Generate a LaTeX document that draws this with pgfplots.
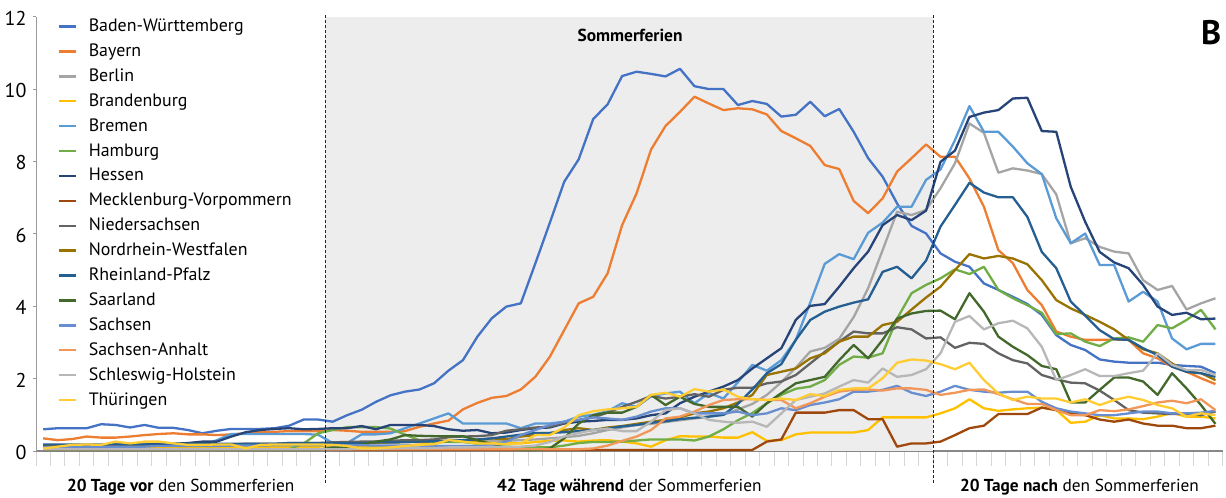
\documentclass[border=0pt]{standalone}
\usepackage{fontspec}
\setmainfont{PT Sans}
\usepackage{pgfplots}
\pgfplotsset{compat=1.18}
\usepackage{pgfplotstable}

\definecolor{cBW}{HTML}{4472C4}
\definecolor{cBY}{HTML}{ED7D31}
\definecolor{cBE}{HTML}{A5A5A5}
\definecolor{cBB}{HTML}{FFC000}
\definecolor{cHB}{HTML}{5B9BD5}
\definecolor{cHH}{HTML}{70AD47}
\definecolor{cHE}{HTML}{264478}
\definecolor{cMV}{HTML}{9E480E}
\definecolor{cNI}{HTML}{636363}
\definecolor{cNW}{HTML}{997300}
\definecolor{cRP}{HTML}{255E91}
\definecolor{cSL}{HTML}{43682B}
\definecolor{cSN}{HTML}{698ED0}
\definecolor{cST}{HTML}{F1975A}
\definecolor{cSH}{HTML}{B7B7B7}
\definecolor{cTH}{HTML}{FFCD33}
\definecolor{shade}{HTML}{EDEDED}

% one value per day (day 0 .. 81), rows separated by \\
\pgfplotstableread[header=false,row sep=\\]{0.60\\0.63\\0.63\\0.63\\0.74\\0.72\\0.65\\0.72\\0.64\\0.64\\0.58\\0.49\\0.56\\0.61\\0.61\\0.61\\0.63\\0.70\\0.87\\0.87\\0.81\\0.99\\1.14\\1.36\\1.54\\1.64\\1.70\\1.87\\2.22\\2.51\\3.16\\3.67\\3.99\\4.08\\5.18\\6.30\\7.44\\8.06\\9.17\\9.58\\10.36\\10.48\\10.42\\10.35\\10.56\\10.08\\10.00\\10.00\\9.56\\9.67\\9.59\\9.24\\9.29\\9.65\\9.25\\9.45\\8.82\\8.09\\7.58\\6.84\\6.22\\6.01\\5.46\\5.23\\5.09\\4.63\\4.45\\4.26\\4.06\\3.76\\3.20\\2.93\\2.79\\2.53\\2.47\\2.44\\2.44\\2.44\\2.38\\2.35\\2.33\\2.15\\}\tBW
\pgfplotstableread[header=false,row sep=\\]{0.35\\0.30\\0.33\\0.40\\0.37\\0.37\\0.40\\0.44\\0.47\\0.49\\0.46\\0.46\\0.44\\0.46\\0.49\\0.52\\0.53\\0.55\\0.55\\0.55\\0.58\\0.56\\0.53\\0.53\\0.53\\0.55\\0.67\\0.76\\0.84\\1.15\\1.33\\1.47\\1.52\\1.70\\2.05\\2.60\\3.34\\4.08\\4.26\\4.91\\6.24\\7.12\\8.33\\8.98\\9.37\\9.79\\9.60\\9.42\\9.47\\9.44\\9.30\\8.84\\8.64\\8.43\\7.90\\7.79\\6.91\\6.57\\6.98\\7.72\\8.09\\8.47\\8.13\\8.13\\7.53\\6.75\\5.55\\5.19\\4.45\\4.03\\3.30\\3.16\\3.07\\3.07\\3.08\\3.07\\2.70\\2.56\\2.33\\2.19\\2.01\\1.85\\}\tBY
\pgfplotstableread[header=false,row sep=\\]{0.10\\0.08\\0.08\\0.10\\0.10\\0.12\\0.12\\0.10\\0.12\\0.12\\0.15\\0.15\\0.12\\0.12\\0.15\\0.15\\0.15\\0.18\\0.18\\0.20\\0.20\\0.18\\0.20\\0.22\\0.22\\0.25\\0.25\\0.28\\0.28\\0.30\\0.30\\0.28\\0.28\\0.30\\0.32\\0.35\\0.38\\0.42\\0.49\\0.58\\0.65\\0.72\\0.75\\0.80\\0.85\\0.90\\0.95\\1.00\\1.15\\1.30\\1.55\\1.90\\2.30\\2.75\\2.85\\3.10\\3.70\\4.50\\5.55\\6.61\\6.52\\6.66\\7.26\\7.95\\9.05\\8.79\\7.69\\7.81\\7.75\\7.65\\7.09\\5.74\\5.88\\5.64\\5.51\\5.46\\4.72\\4.45\\4.56\\3.91\\4.08\\4.22\\}\tBE
\pgfplotstableread[header=false,row sep=\\]{0.08\\0.08\\0.08\\0.08\\0.08\\0.10\\0.10\\0.10\\0.10\\0.10\\0.10\\0.12\\0.12\\0.12\\0.12\\0.12\\0.12\\0.12\\0.12\\0.12\\0.14\\0.12\\0.10\\0.10\\0.12\\0.15\\0.18\\0.20\\0.28\\0.25\\0.25\\0.22\\0.22\\0.21\\0.25\\0.28\\0.29\\0.26\\0.29\\0.30\\0.26\\0.21\\0.12\\0.30\\0.41\\0.40\\0.40\\0.37\\0.37\\0.52\\0.28\\0.30\\0.46\\0.51\\0.51\\0.51\\0.51\\0.58\\0.93\\0.93\\0.93\\0.93\\1.04\\1.18\\1.43\\1.18\\1.11\\1.15\\1.18\\1.20\\1.13\\0.78\\0.81\\0.99\\0.90\\0.90\\0.88\\0.95\\1.05\\0.95\\0.95\\0.90\\}\tBB
\pgfplotstableread[header=false,row sep=\\]{0.15\\0.15\\0.15\\0.15\\0.15\\0.15\\0.15\\0.15\\0.15\\0.15\\0.15\\0.15\\0.30\\0.47\\0.47\\0.47\\0.47\\0.47\\0.47\\0.45\\0.22\\0.22\\0.46\\0.46\\0.49\\0.63\\0.76\\0.90\\1.04\\0.76\\0.76\\0.76\\0.76\\0.63\\0.76\\0.76\\0.81\\0.95\\1.00\\1.10\\1.32\\1.22\\1.51\\1.59\\1.64\\1.32\\1.60\\1.45\\1.90\\2.38\\2.22\\2.51\\3.07\\4.10\\5.17\\5.44\\5.30\\6.03\\6.31\\6.75\\6.75\\7.49\\7.78\\8.59\\9.53\\8.82\\8.82\\8.41\\7.95\\7.65\\6.43\\5.74\\6.01\\5.14\\5.14\\4.13\\4.40\\4.13\\3.11\\2.81\\2.96\\2.96\\}\tHB
\pgfplotstableread[header=false,row sep=\\]{0.05\\0.05\\0.05\\0.05\\0.05\\0.05\\0.05\\0.05\\0.05\\0.05\\0.05\\0.05\\0.05\\0.05\\0.05\\0.05\\0.05\\0.05\\0.21\\0.49\\0.58\\0.66\\0.66\\0.66\\0.62\\0.45\\0.30\\0.25\\0.25\\0.25\\0.20\\0.15\\0.12\\0.10\\0.10\\0.10\\0.15\\0.22\\0.25\\0.25\\0.26\\0.29\\0.32\\0.32\\0.32\\0.29\\0.40\\0.60\\0.85\\1.05\\1.32\\1.55\\1.72\\1.78\\1.96\\2.38\\2.61\\2.58\\2.70\\3.66\\4.36\\4.59\\4.77\\5.02\\4.89\\5.09\\4.45\\4.22\\4.03\\3.82\\3.23\\3.25\\3.02\\2.90\\3.11\\3.14\\3.02\\3.48\\3.39\\3.62\\3.90\\3.36\\}\tHH
\pgfplotstableread[header=false,row sep=\\]{0.15\\0.15\\0.15\\0.12\\0.15\\0.18\\0.18\\0.18\\0.20\\0.20\\0.22\\0.26\\0.26\\0.40\\0.52\\0.58\\0.61\\0.63\\0.60\\0.61\\0.63\\0.63\\0.69\\0.60\\0.72\\0.72\\0.72\\0.69\\0.60\\0.56\\0.58\\0.49\\0.51\\0.58\\0.63\\0.65\\0.76\\0.81\\0.83\\0.86\\0.86\\0.90\\0.99\\1.04\\1.32\\1.50\\1.64\\1.78\\1.96\\2.28\\2.56\\2.84\\3.62\\4.01\\4.06\\4.54\\5.05\\5.51\\6.24\\6.52\\6.38\\6.64\\7.99\\8.30\\9.23\\9.35\\9.42\\9.74\\9.76\\8.84\\8.82\\7.30\\6.33\\5.50\\5.21\\5.05\\4.59\\3.99\\3.76\\3.82\\3.64\\3.66\\}\tHE
\pgfplotstableread[header=false,row sep=\\]{0.05\\0.05\\0.05\\0.05\\0.05\\0.05\\0.05\\0.05\\0.05\\0.05\\0.05\\0.05\\0.05\\0.05\\0.05\\0.05\\0.05\\0.05\\0.05\\0.05\\0.03\\0.03\\0.03\\0.03\\0.03\\0.03\\0.03\\0.03\\0.03\\0.03\\0.03\\0.03\\0.03\\0.03\\0.03\\0.03\\0.03\\0.03\\0.03\\0.03\\0.03\\0.03\\0.03\\0.03\\0.03\\0.03\\0.03\\0.03\\0.03\\0.03\\0.26\\0.32\\1.06\\1.06\\1.06\\1.13\\1.13\\0.88\\0.88\\0.12\\0.21\\0.21\\0.26\\0.44\\0.63\\0.70\\1.02\\1.02\\1.02\\1.20\\1.13\\1.04\\0.99\\0.87\\0.81\\0.87\\0.76\\0.70\\0.70\\0.63\\0.63\\0.70\\}\tMV
\pgfplotstableread[header=false,row sep=\\]{0.12\\0.12\\0.14\\0.14\\0.15\\0.15\\0.15\\0.15\\0.17\\0.17\\0.17\\0.18\\0.18\\0.18\\0.20\\0.20\\0.20\\0.22\\0.22\\0.22\\0.24\\0.25\\0.26\\0.26\\0.28\\0.30\\0.30\\0.32\\0.38\\0.40\\0.41\\0.44\\0.56\\0.60\\0.65\\0.67\\0.78\\0.86\\0.93\\1.06\\1.22\\1.36\\1.52\\1.45\\1.50\\1.57\\1.50\\1.69\\1.75\\1.75\\1.87\\1.92\\2.10\\2.42\\2.74\\3.02\\3.30\\3.25\\3.25\\3.42\\3.36\\3.11\\3.14\\2.85\\2.99\\2.96\\2.70\\2.51\\2.42\\2.10\\1.98\\1.89\\1.87\\1.67\\1.41\\1.13\\1.06\\1.04\\1.02\\1.02\\0.99\\1.09\\}\tNI
\pgfplotstableread[header=false,row sep=\\]{0.13\\0.13\\0.14\\0.14\\0.14\\0.15\\0.15\\0.15\\0.15\\0.15\\0.16\\0.16\\0.16\\0.17\\0.17\\0.17\\0.18\\0.18\\0.18\\0.19\\0.21\\0.22\\0.22\\0.23\\0.24\\0.25\\0.26\\0.27\\0.28\\0.29\\0.30\\0.35\\0.32\\0.40\\0.44\\0.49\\0.58\\0.63\\0.58\\0.65\\0.69\\0.75\\0.81\\0.86\\0.93\\1.04\\1.09\\1.18\\1.34\\1.55\\2.10\\2.19\\2.28\\2.56\\2.70\\3.02\\3.16\\3.16\\3.48\\3.57\\3.91\\4.24\\4.54\\5.00\\5.44\\5.32\\5.39\\5.32\\5.16\\4.72\\4.17\\3.94\\3.76\\3.57\\3.36\\3.07\\2.81\\2.70\\2.42\\2.19\\2.15\\1.96\\}\tNW
\pgfplotstableread[header=false,row sep=\\]{0.18\\0.18\\0.18\\0.18\\0.18\\0.18\\0.18\\0.18\\0.18\\0.20\\0.20\\0.20\\0.20\\0.20\\0.20\\0.20\\0.20\\0.22\\0.22\\0.22\\0.22\\0.22\\0.22\\0.24\\0.24\\0.25\\0.26\\0.27\\0.28\\0.30\\0.32\\0.35\\0.40\\0.45\\0.50\\0.50\\0.52\\0.55\\0.58\\0.62\\0.68\\0.72\\0.78\\0.82\\0.88\\0.92\\0.95\\1.00\\1.30\\1.70\\2.15\\2.40\\3.07\\3.62\\3.85\\3.99\\4.10\\4.19\\4.95\\5.09\\4.77\\5.26\\6.20\\6.80\\7.41\\7.14\\7.01\\7.01\\6.47\\5.50\\5.05\\4.13\\3.74\\3.34\\3.09\\3.07\\2.84\\2.65\\2.33\\2.19\\2.15\\2.05\\}\tRP
\pgfplotstableread[header=false,row sep=\\]{0.03\\0.03\\0.03\\0.03\\0.03\\0.03\\0.03\\0.03\\0.03\\0.03\\0.03\\0.03\\0.03\\0.03\\0.03\\0.03\\0.03\\0.03\\0.03\\0.03\\0.10\\0.12\\0.18\\0.26\\0.32\\0.44\\0.42\\0.41\\0.41\\0.41\\0.30\\0.19\\0.07\\0.03\\0.03\\0.07\\0.35\\0.76\\0.99\\1.06\\1.06\\1.22\\1.55\\1.27\\1.50\\1.30\\1.22\\1.22\\1.22\\0.95\\1.32\\1.60\\1.87\\1.96\\2.05\\2.51\\2.93\\2.56\\3.07\\3.66\\3.80\\3.87\\3.88\\3.64\\4.36\\3.85\\3.16\\2.88\\2.65\\2.35\\2.26\\1.34\\1.34\\1.69\\2.03\\2.03\\1.92\\1.55\\2.15\\1.73\\1.27\\0.75\\}\tSL
\pgfplotstableread[header=false,row sep=\\]{0.10\\0.10\\0.12\\0.12\\0.12\\0.12\\0.12\\0.12\\0.14\\0.14\\0.14\\0.14\\0.14\\0.15\\0.15\\0.15\\0.16\\0.16\\0.16\\0.16\\0.16\\0.16\\0.16\\0.15\\0.15\\0.15\\0.15\\0.14\\0.14\\0.14\\0.14\\0.17\\0.26\\0.44\\0.58\\0.72\\0.81\\0.86\\0.93\\0.90\\0.86\\0.95\\1.09\\1.18\\1.18\\1.04\\1.04\\1.04\\1.09\\0.99\\1.04\\1.18\\1.13\\1.27\\1.34\\1.43\\1.64\\1.64\\1.69\\1.80\\1.61\\1.52\\1.64\\1.80\\1.69\\1.64\\1.61\\1.64\\1.64\\1.36\\1.18\\1.09\\1.04\\0.99\\0.99\\1.04\\1.09\\1.09\\1.04\\1.04\\1.06\\1.11\\}\tSN
\pgfplotstableread[header=false,row sep=\\]{0.05\\0.05\\0.05\\0.05\\0.05\\0.05\\0.05\\0.05\\0.05\\0.05\\0.05\\0.05\\0.05\\0.05\\0.05\\0.05\\0.05\\0.05\\0.05\\0.05\\0.05\\0.05\\0.05\\0.05\\0.05\\0.05\\0.05\\0.05\\0.05\\0.05\\0.05\\0.05\\0.05\\0.05\\0.05\\0.05\\0.05\\0.05\\0.07\\0.15\\0.28\\0.40\\0.58\\0.90\\0.95\\1.09\\1.27\\1.41\\1.43\\1.43\\1.41\\1.41\\1.18\\1.32\\1.50\\1.64\\1.69\\1.70\\1.67\\1.73\\1.73\\1.69\\1.55\\1.61\\1.69\\1.70\\1.57\\1.43\\1.30\\1.30\\1.13\\0.99\\0.99\\1.13\\1.10\\1.15\\1.24\\1.34\\1.39\\1.32\\1.43\\1.13\\}\tST
\pgfplotstableread[header=false,row sep=\\]{0.05\\0.05\\0.05\\0.05\\0.05\\0.05\\0.05\\0.05\\0.05\\0.05\\0.05\\0.05\\0.05\\0.05\\0.05\\0.05\\0.05\\0.05\\0.05\\0.05\\0.05\\0.05\\0.06\\0.06\\0.07\\0.08\\0.08\\0.08\\0.10\\0.10\\0.10\\0.12\\0.12\\0.12\\0.15\\0.25\\0.40\\0.50\\0.58\\0.62\\0.55\\0.55\\0.81\\1.13\\1.18\\1.04\\0.86\\0.81\\0.78\\0.81\\0.67\\1.04\\1.41\\1.50\\1.59\\1.78\\1.96\\1.89\\2.28\\2.05\\2.10\\2.26\\2.70\\3.57\\3.73\\3.36\\3.53\\3.60\\3.39\\2.88\\1.96\\2.10\\2.26\\2.07\\2.07\\2.15\\2.22\\2.70\\2.38\\2.24\\2.24\\2.10\\}\tSH
\pgfplotstableread[header=false,row sep=\\]{0.07\\0.12\\0.17\\0.18\\0.17\\0.26\\0.21\\0.26\\0.26\\0.21\\0.17\\0.17\\0.18\\0.18\\0.07\\0.17\\0.18\\0.18\\0.18\\0.18\\0.17\\0.14\\0.07\\0.07\\0.10\\0.14\\0.17\\0.19\\0.30\\0.26\\0.21\\0.21\\0.19\\0.21\\0.44\\0.44\\0.65\\0.99\\1.10\\1.15\\1.18\\1.22\\1.55\\1.61\\1.50\\1.71\\1.64\\1.70\\1.50\\1.43\\1.41\\1.45\\1.41\\1.57\\1.52\\1.69\\1.73\\1.73\\2.01\\2.44\\2.53\\2.50\\2.40\\2.26\\2.44\\1.96\\1.59\\1.41\\1.50\\1.45\\1.45\\1.34\\1.43\\1.27\\1.41\\1.50\\1.41\\1.27\\1.18\\0.95\\1.04\\0.99\\}\tTH

\begin{document}
\begin{tikzpicture}
\begin{axis}[
  scale only axis, width=1186.7pt, height=434.3pt,
  xmin=-0.5, xmax=81.5, ymin=0, ymax=12,
  axis x line*=bottom, axis y line*=left,
  x axis line style={-, draw=black!47, line width=2pt},
  y axis line style={-, draw=black!40, line width=1pt},
  xtick={-0.5,0.5,...,81.5}, xticklabels={},
  tick align=outside,
  xtick style={draw=black!16, line width=1pt, /pgfplots/major tick length=15pt},
  ytick={0,2,...,12},
  ytick style={draw=black!40, line width=0.8pt, /pgfplots/major tick length=3pt},
  yticklabel style={font=\fontsize{20}{20}\selectfont, inner sep=0pt, xshift=-5pt, yshift=-1.5pt},
  /pgf/number format/assume math mode=true,
  clip=false,
  every axis plot/.append style={line width=2.3pt, line join=round, mark=none},
  legend cell align=left,
  legend image code/.code={\draw[#1, line width=2.4pt] (0pt,0pt) -- (17pt,0pt);},
  legend style={draw=none, fill=none, at={(axis description cs:0.018,0.998)}, anchor=north west,
    font=\fontsize{17.9}{17.9}\selectfont, row sep=6.9pt, column sep=12pt, inner sep=0pt, outer sep=0pt,
    nodes={inner sep=0pt, text height=14pt, text depth=4pt}},
]
\addplot[forget plot, fill=shade, draw=none, line width=0pt] coordinates {(19.5,12) (61.5,12)} \closedcycle;

\addplot[cBW] table[x expr=\coordindex, y index=0]{\tBW}; \addlegendentry{Baden-Württemberg}
\addplot[cBY] table[x expr=\coordindex, y index=0]{\tBY}; \addlegendentry{Bayern}
\addplot[cBE] table[x expr=\coordindex, y index=0]{\tBE}; \addlegendentry{Berlin}
\addplot[cBB] table[x expr=\coordindex, y index=0]{\tBB}; \addlegendentry{Brandenburg}
\addplot[cHB] table[x expr=\coordindex, y index=0]{\tHB}; \addlegendentry{Bremen}
\addplot[cHH] table[x expr=\coordindex, y index=0]{\tHH}; \addlegendentry{Hamburg}
\addplot[cHE] table[x expr=\coordindex, y index=0]{\tHE}; \addlegendentry{Hessen}
\addplot[cMV] table[x expr=\coordindex, y index=0]{\tMV}; \addlegendentry{Mecklenburg-Vorpommern}
\addplot[cNI] table[x expr=\coordindex, y index=0]{\tNI}; \addlegendentry{Niedersachsen}
\addplot[cNW] table[x expr=\coordindex, y index=0]{\tNW}; \addlegendentry{Nordrhein-Westfalen}
\addplot[cRP] table[x expr=\coordindex, y index=0]{\tRP}; \addlegendentry{Rheinland-Pfalz}
\addplot[cSL] table[x expr=\coordindex, y index=0]{\tSL}; \addlegendentry{Saarland}
\addplot[cSN] table[x expr=\coordindex, y index=0]{\tSN}; \addlegendentry{Sachsen}
\addplot[cST] table[x expr=\coordindex, y index=0]{\tST}; \addlegendentry{Sachsen-Anhalt}
\addplot[cSH] table[x expr=\coordindex, y index=0]{\tSH}; \addlegendentry{Schleswig-Holstein}
\addplot[cTH] table[x expr=\coordindex, y index=0]{\tTH}; \addlegendentry{Thüringen}

\addplot[forget plot, black!85, line width=1.3pt, dash pattern=on 3pt off 2pt] coordinates {(19.5,12.05) (19.5,-0.88)};
\addplot[forget plot, black!85, line width=1.3pt, dash pattern=on 3pt off 2pt] coordinates {(61.5,12.05) (61.5,-0.88)};

\node[font=\bfseries\fontsize{17.4}{17.4}\selectfont] at (axis cs:40.55,11.49) {Sommerferien};
\node[font=\bfseries\fontsize{34}{34}\selectfont] at (axis cs:80.7,11.55) {B};
\node[font=\fontsize{17.3}{17.3}\selectfont] at (axis cs:9.5,-0.985) {\textbf{20 Tage vor} den Sommerferien};
\node[font=\fontsize{17.3}{17.3}\selectfont] at (axis cs:40.5,-0.985) {\textbf{42 Tage während} der Sommerferien};
\node[font=\fontsize{17.3}{17.3}\selectfont] at (axis cs:71.6,-0.985) {\textbf{20 Tage nach} den Sommerferien};

\coordinate (SW) at (rel axis cs:0,0);
\coordinate (NE) at (rel axis cs:1,1);
\end{axis}
\pgfresetboundingbox
\path ([xshift=-36pt,yshift=-46pt]SW) rectangle ([xshift=3.3pt,yshift=16.7pt]NE);
\end{tikzpicture}
\end{document}
